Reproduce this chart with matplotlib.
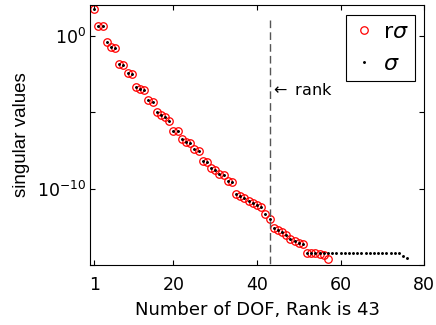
import numpy as np
import matplotlib
matplotlib.use("Agg")
import matplotlib.pyplot as plt
from matplotlib.ticker import NullFormatter

plt.rcParams['font.family'] = ['DejaVu Sans']
plt.rcParams['mathtext.fontset'] = 'dejavusans'

# log10 of singular values
sigma_log = [1.77, 0.65, 0.65, -0.43, -0.76, -0.83, -1.85, -1.90, -2.44, -2.48,
             -3.38, -3.48, -3.59, -4.18, -4.36, -5.02, -5.18, -5.31, -5.58, -6.25,
             -6.27, -6.75, -6.93, -7.04, -7.41, -7.54, -8.18, -8.29, -8.65, -8.80,
             -9.04, -9.13, -9.48, -9.56, -10.35, -10.46, -10.65, -10.83, -10.93, -11.07,
             -11.22, -11.67, -11.98, -12.57, -12.68, -12.83, -13.03, -13.33, -13.44, -13.55,
             -13.64, -14.20, -14.20, -14.20, -14.20, -14.20, -14.20, -14.20, -14.20, -14.20,
             -14.20, -14.20, -14.20, -14.20, -14.20, -14.20, -14.20, -14.20, -14.20, -14.20,
             -14.20, -14.20, -14.20, -14.20, -14.42, -14.53]
rsigma_log = sigma_log[:51] + [-14.20, -14.20, -14.20, -14.25, -14.36, -14.64]
rank = 43

sigma = 10.0 ** np.array(sigma_log)
rsigma = 10.0 ** np.array(rsigma_log)
idx_s = np.arange(1, len(sigma) + 1)
idx_r = np.arange(1, len(rsigma) + 1)

fig = plt.figure(figsize=(4.36, 3.25), dpi=100)
ax = fig.add_axes([0.2064, 0.1846, 0.7661, 0.80])

ax.semilogy(idx_r, rsigma, 'o', mfc='none', mec='red', ms=5.4, mew=0.9, label=r'r$\sigma$')
ax.semilogy(idx_s, sigma, '.', color='black', ms=2.2, label=r'$\sigma$')
ax.plot([rank, rank], [10 ** 1.05, 1e-15], color='#555555', lw=1.0, dashes=(5.5, 3))
ax.text(rank + 0.1, 10 ** -3.55, r'$\leftarrow$ rank', fontsize=11.5, va='center', ha='left')

ax.set_xlim(0, 80)
ax.set_ylim(1e-15, 1e2)
ax.set_xticks([1, 20, 40, 60, 80])
ax.set_yticks([1e-10, 1e0])
ax.set_yticklabels([r'$10^{-10}$', r'$10^{0}$'])
ax.set_yticks([1e-15, 1e-5], minor=True)
ax.yaxis.set_minor_formatter(NullFormatter())
ax.tick_params(which='both', direction='in', top=True, right=True, length=3.5, width=0.8, labelsize=12.5)
ax.tick_params(axis='x', pad=8)
ax.tick_params(axis='y', pad=3)

ax.set_xlabel('Number of DOF, Rank is 43', fontsize=13, labelpad=5)
ax.set_ylabel('singular values', fontsize=13.5, labelpad=5, family='Liberation Sans')

leg = ax.legend(loc='upper right', fontsize=16, frameon=True, fancybox=False,
                edgecolor='black', framealpha=1, handletextpad=0.35, borderpad=0.3,
                labelspacing=0.55, handlelength=1.0, borderaxespad=0,
                bbox_to_anchor=(0.973, 0.9615))
leg.get_frame().set_linewidth(0.8)

fig.savefig('out.png', dpi=100)
